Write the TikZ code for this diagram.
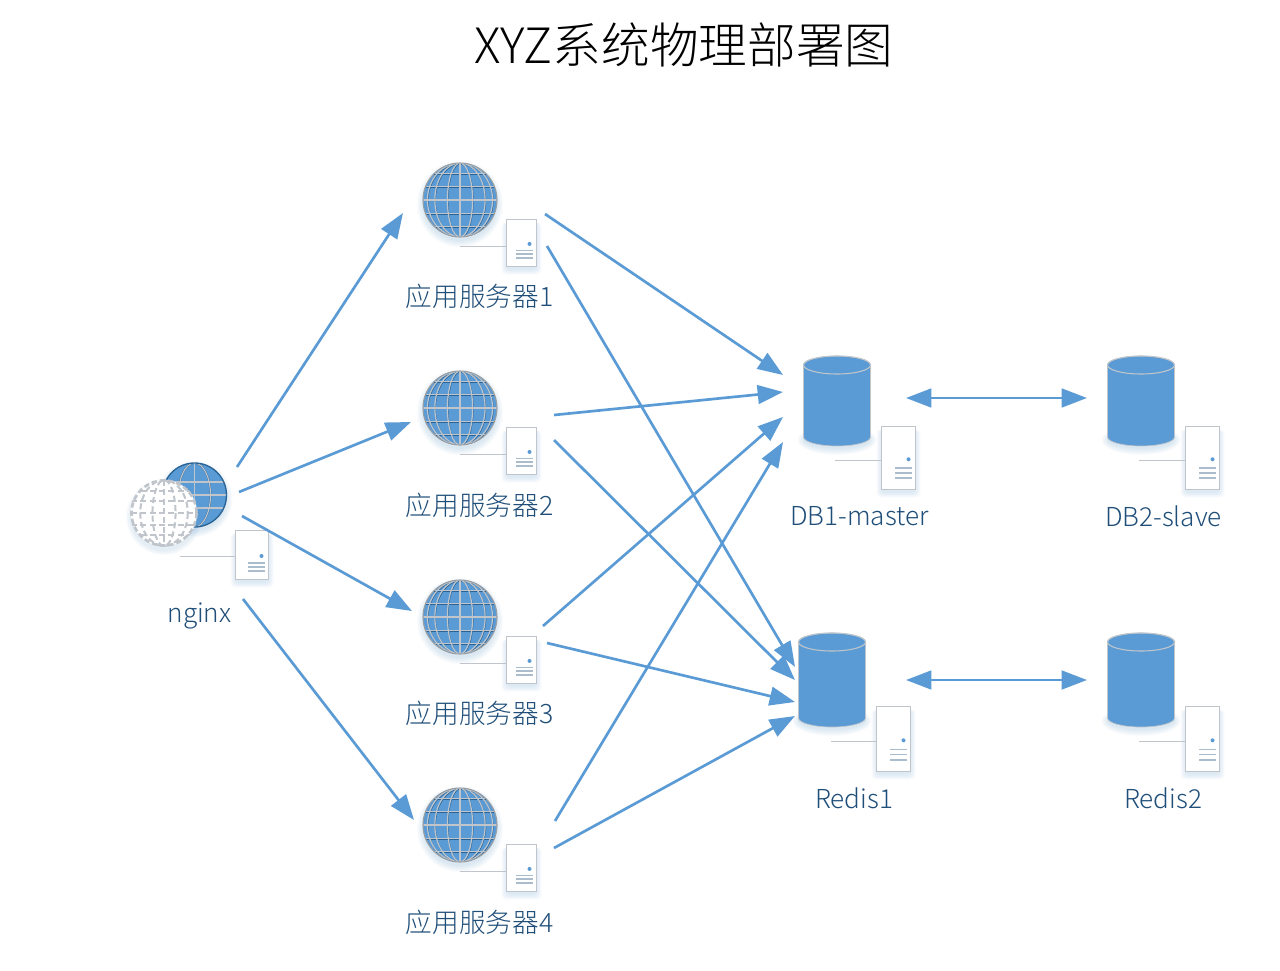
\documentclass[tikz,border=0pt]{standalone}
\usepackage{fontspec}
\setmainfont{Noto Sans CJK SC Light}
\usetikzlibrary{arrows.meta}
\definecolor{mblue}{HTML}{5B9BD5}
\definecolor{dblue}{HTML}{2A6496}
\definecolor{lgrey}{HTML}{BFC5CB}
\definecolor{txt}{HTML}{1F4E79}
\definecolor{shad}{HTML}{5B9BD5}
\tikzset{
  link/.style={draw=mblue,line width=2pt,-{Triangle[length=19pt,width=14pt]}},
  dlink/.style={draw=mblue,line width=2pt,{Triangle[length=19pt,width=14pt]}-{Triangle[length=19pt,width=14pt]}},
  lab/.style={text=txt,font=\fontsize{20pt}{22pt}\selectfont,inner sep=0pt,anchor=center},
  labl/.style={lab,font=\fontsize{19.6pt}{22pt}\selectfont},
  srv/.style={draw=lgrey,fill=white,line width=.7pt},
  wire/.style={draw=lgrey,line width=.7pt},
  bars/.style={draw=lgrey!80!mblue,line width=1.3pt},
  dashg/.style={lgrey,line width=1.5pt,dash pattern=on 4.5pt off 2.5pt},
}
\newcommand{\boxshadow}[4]{%
  \foreach \d in {1,2,...,6}{\fill[shad,opacity=.035,rounded corners=3pt] (#1-\d+1,#2+3) rectangle (#3+\d-1,#4+\d+2);}}
\newcommand{\server}[6]{%
  \boxshadow{#1}{#2}{#3}{#4}
  \draw[wire] (#5,#6) -- (#1,#6);
  \draw[srv] (#1,#2) rectangle (#3,#4);
  \pgfmathsetmacro{\hh}{#4-#2}
  \pgfmathsetmacro{\dx}{#3-7}
  \pgfmathsetmacro{\bxa}{#3-20.5}
  \pgfmathsetmacro{\bxb}{#3-4}
  \pgfmathsetmacro{\dya}{#4-.48*\hh}
  \fill[mblue] (\dx,\dya) circle[radius=2];
  \pgfmathsetmacro{\ba}{#4-.34*\hh}
  \pgfmathsetmacro{\bb}{#4-.26*\hh}
  \pgfmathsetmacro{\bc}{#4-.18*\hh}
  \draw[bars] (\bxa,\ba) -- (\bxb,\ba) (\bxa,\bb) -- (\bxb,\bb) (\bxa,\bc) -- (\bxb,\bc);
}
\newcommand{\roundshadow}[3]{%
  \foreach \d in {1,2,...,7}{\fill[shad,opacity=.03] (#1,#2+4) circle[radius=#3+\d-1];}}
\newcommand{\gridlines}[2]{%
  \foreach \k in {.34,.68,.88}{\draw[#2] (0,0) ellipse[x radius=\k*#1,y radius=#1];}
  \draw[#2] (0,-#1) -- (0,#1);
  \foreach \k in {0,.37,.72,-.37,-.72}{\draw[#2] (-#1,\k*#1) -- (#1,\k*#1);}
}
\newcommand{\globe}[3]{%
  \roundshadow{#1}{#2}{#3}
  \begin{scope}[shift={(#1,#2)}]
    \fill[mblue] (0,0) circle[radius=#3];
    \begin{scope}
      \clip (0,0) circle[radius=#3];
      \begin{scope}[shift={(.5,.7)}]
      \gridlines{#3}{draw=dblue,line width=.8pt}
      \end{scope}
      \gridlines{#3}{draw=lgrey,line width=.9pt}
    \end{scope}
    \draw[draw=lgrey!80!black,line width=.8pt] (0,0) circle[radius=#3];
  \end{scope}}
\newcommand{\cyl}[4]{%
  \pgfmathsetmacro{\rx}{(#3-#1)/2}
  \pgfmathsetmacro{\cx}{(#3+#1)/2}
  \pgfmathsetmacro{\ta}{#2+9}
  \pgfmathsetmacro{\tb}{#4-9}
  \foreach \d in {1,2,...,7}{\fill[shad,opacity=.03] (\cx,#4-6) ellipse[x radius=\rx+\d-1,y radius=8+\d];}
  \fill[mblue,draw=lgrey,line width=.5pt] (#1,\ta) -- (#1,\tb) arc[start angle=180,end angle=0,x radius=\rx,y radius=9] -- (#3,\ta) arc[start angle=0,end angle=-180,x radius=\rx,y radius=9] -- cycle;
  \draw[draw=lgrey,line width=.8pt] (\cx,\ta) ellipse[x radius=\rx,y radius=9];
}
\begin{document}
\begin{tikzpicture}[x=.75pt,y=-.75pt]
\useasboundingbox[fill=white] (0,0) rectangle (1280,970);

\node[inner sep=0pt,anchor=center,text=black,font=\fontsize{36.5pt}{40pt}\selectfont] (title) at (684,45) {XYZ系统物理部署图};

% nginx
\roundshadow{194.5}{495}{32}
\begin{scope}[shift={(194.5,495)}]
  \fill[mblue] (0,0) circle[radius=32];
  \begin{scope}
    \clip (0,0) circle[radius=32];
    \foreach \st in {{draw=dblue,line width=1.3pt},{draw=lgrey,line width=.9pt}}{
      \draw[/tikz/.cd,style/.expanded=\st] (0,0) ellipse[x radius=16,y radius=32];
      \draw[/tikz/.cd,style/.expanded=\st] (0,-32) -- (0,32);
      \draw[/tikz/.cd,style/.expanded=\st] (-32,0) -- (32,0) (-32,-13) -- (32,-13) (-32,13) -- (32,13);
    }
  \end{scope}
  \draw[draw=dblue,line width=1pt] (0,0) circle[radius=32];
\end{scope}
\begin{scope}[shift={(164,513)}]
  \foreach \d in {1,2,...,5}{\fill[shad,opacity=.03] (0,4) circle[radius=33+\d];}
  \fill[white] (0,0) circle[radius=33];
  \clip (0,0) circle[radius=34];
  \foreach \k in {.35,.72}{\draw[dashg] (0,0) ellipse[x radius=\k*33,y radius=33];}
  \draw[dashg] (0,-33) -- (0,33);
  \foreach \k in {0,.36,.68,-.36,-.68}{\draw[dashg] (-33,\k*33) -- (33,\k*33);}
  \draw[lgrey,line width=2pt,dash pattern=on 4pt off 2.2pt] (0,0) circle[radius=32.5];
\end{scope}
\server{235.5}{530.5}{268.5}{579.5}{180}{556}
\node[labl] (lnginx) at (199.5,616) {nginx};

% application servers
\globe{460}{200}{37}
\server{506.5}{219.5}{536.5}{266.5}{460}{246}
\node[lab] (lapp1) at (479.5,296.5) {应用服务器1};
\globe{460}{408}{37}
\server{506.5}{427.5}{536.5}{474.5}{460}{454}
\node[lab] (lapp2) at (479.5,505.5) {应用服务器2};
\globe{460}{617}{37}
\server{506.5}{636.5}{536.5}{683.5}{460}{663}
\node[lab] (lapp3) at (479.5,713.5) {应用服务器3};
\globe{460}{825}{37}
\server{506.5}{844.5}{536.5}{891.5}{460}{871}
\node[lab] (lapp4) at (479.5,922.5) {应用服务器4};

% data stores
\cyl{803.5}{356}{870.5}{446}
\server{881.5}{426.5}{915.5}{489.5}{835}{460}
\node[labl] (ldb1) at (859.5,516) {DB1-master};
\cyl{1107.5}{356}{1174.5}{446}
\server{1185.5}{426.5}{1219.5}{489.5}{1139}{460}
\node[labl] (ldb2) at (1163.5,516) {DB2-slave};
\cyl{798.5}{633}{865.5}{727}
\server{876.5}{706.5}{910.5}{771.5}{831}{741}
\node[labl] (lredis1) at (854,798) {Redis1};
\cyl{1107.5}{633}{1174.5}{727}
\server{1185.5}{706.5}{1219.5}{771.5}{1139}{741}
\node[labl] (lredis2) at (1163,798) {Redis2};

% connector ends
\coordinate (na) at (237,467); \coordinate (a1i) at (403,213);
\coordinate (nb) at (239,492); \coordinate (a2i) at (411,422);
\coordinate (nc) at (242,516); \coordinate (a3i) at (412,611);
\coordinate (nd) at (243,599); \coordinate (a4i) at (414,820);
\coordinate (a1a) at (545,214); \coordinate (d1a) at (783,375);
\coordinate (a1b) at (547,246); \coordinate (r1a) at (795,667);
\coordinate (a2a) at (554,415); \coordinate (d1b) at (783,392);
\coordinate (a2b) at (554,440); \coordinate (r1b) at (795,680);
\coordinate (a3a) at (543,626); \coordinate (d1c) at (783,417);
\coordinate (a3b) at (547,643); \coordinate (r1c) at (795,702);
\coordinate (a4a) at (555,821); \coordinate (d1d) at (783,442);
\coordinate (a4b) at (554,848); \coordinate (r1d) at (795,716);
\coordinate (d1r) at (906,398); \coordinate (d2l) at (1087,398);
\coordinate (r1r) at (906,680); \coordinate (r2l) at (1087,680);

\foreach \s/\t in {na/a1i,nb/a2i,nc/a3i,nd/a4i,a1a/d1a,a1b/r1a,a2a/d1b,a2b/r1b,a3a/d1c,a3b/r1c,a4a/d1d,a4b/r1d}
  \draw[link] (\s) -- (\t);
\draw[dlink] (d1r) -- (d2l);
\draw[dlink] (r1r) -- (r2l);
\end{tikzpicture}
\end{document}
